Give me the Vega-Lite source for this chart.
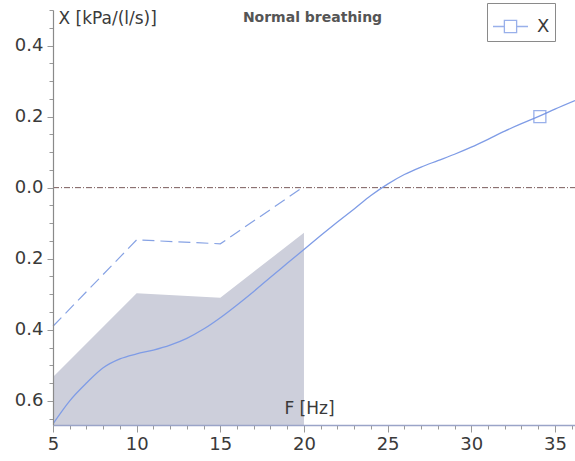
{
  "$schema": "https://vega.github.io/schema/vega-lite/v6.json",
  "width": 522,
  "height": 415,
  "autosize": {"type": "none"},
  "padding": {"left": 53, "top": 10, "right": 0, "bottom": 36},
  "background": "white",
  "config": {
    "font": "DejaVu Sans",
    "view": {"stroke": null}
  },
  "datasets": {
    "band": [
      {"F": 5, "upper": -0.533},
      {"F": 10, "upper": -0.297},
      {"F": 15, "upper": -0.31},
      {"F": 20, "upper": -0.127}
    ],
    "dash": [
      {"F": 5, "X": -0.39},
      {"F": 10, "X": -0.147},
      {"F": 15, "X": -0.158},
      {"F": 20, "X": 0.003}
    ],
    "line": [
      {"F": 5, "X": -0.665},
      {"F": 6, "X": -0.6},
      {"F": 7, "X": -0.55},
      {"F": 8, "X": -0.507},
      {"F": 9, "X": -0.482},
      {"F": 10, "X": -0.468},
      {"F": 11, "X": -0.457},
      {"F": 12, "X": -0.443},
      {"F": 13, "X": -0.424},
      {"F": 14, "X": -0.398},
      {"F": 15, "X": -0.366},
      {"F": 16, "X": -0.33},
      {"F": 17, "X": -0.292},
      {"F": 18, "X": -0.252},
      {"F": 19, "X": -0.213},
      {"F": 20, "X": -0.174},
      {"F": 21, "X": -0.135},
      {"F": 22, "X": -0.097},
      {"F": 23, "X": -0.06},
      {"F": 24, "X": -0.022},
      {"F": 25, "X": 0.01},
      {"F": 26, "X": 0.037},
      {"F": 27, "X": 0.058},
      {"F": 28, "X": 0.076},
      {"F": 29, "X": 0.094},
      {"F": 30, "X": 0.114},
      {"F": 31, "X": 0.136},
      {"F": 32, "X": 0.159},
      {"F": 33, "X": 0.18},
      {"F": 34, "X": 0.2},
      {"F": 35, "X": 0.221},
      {"F": 36.2, "X": 0.245}
    ],
    "marker": [
      {"F": 34.1, "X": 0.2, "series": "X"}
    ]
  },
  "resolve": {"axis": {"x": "independent", "y": "independent"}},
  "layer": [
    {
      "data": {"name": "band"},
      "mark": {"type": "area", "color": "#cdcfdb", "opacity": 1},
      "encoding": {
        "x": {
          "field": "F",
          "type": "quantitative",
          "scale": {"domain": [5, 36.2], "nice": false, "zero": false},
          "axis": {
            "zindex": 1,
            "values": [5, 6, 7, 8, 9, 10, 11, 12, 13, 14, 15, 16, 17, 18, 19, 20, 21, 22, 23, 24, 25, 26, 27, 28, 29, 30, 31, 32, 33, 34, 35, 36],
            "labelExpr": "datum.value % 5 === 0 ? datum.label : ''",
            "labelFontSize": 18,
            "labelColor": "#3a3a3a",
            "labelPadding": 3,
            "labelFlush": false,
            "labelOverlap": false,
            "grid": false,
            "domainColor": "#9aa4c8",
            "domainWidth": 1.5,
            "tickColor": "#999999",
            "tickSize": {"condition": {"test": "datum.value % 5 === 0", "value": 7}, "value": 4},
            "title": "F [Hz]",
            "titleFontSize": 17,
            "titleFontWeight": "normal",
            "titleColor": "#3a3a3a",
            "titleX": 256,
            "titleY": -17,
            "titleAlign": "center",
            "titleBaseline": "middle"
          }
        },
        "y": {
          "field": "upper",
          "type": "quantitative",
          "scale": {"domain": [-0.668, 0.5], "nice": false, "zero": false},
          "axis": {
            "zindex": 1,
            "values": [-0.65, -0.6, -0.55, -0.5, -0.45, -0.4, -0.35, -0.3, -0.25, -0.2, -0.15, -0.1, -0.05, 0, 0.05, 0.1, 0.15, 0.2, 0.25, 0.3, 0.35, 0.4, 0.45, 0.5],
            "labelExpr": "abs(round(datum.value * 100)) % 20 === 0 ? format(abs(datum.value), '.1f') : ''",
            "labelFontSize": 18,
            "labelColor": "#3a3a3a",
            "labelPadding": 4,
            "labelOverlap": false,
            "labelFlush": false,
            "grid": false,
            "domainColor": "#8a8a8a",
            "domainWidth": 1.2,
            "tickColor": "#999999",
            "tickSize": {"condition": {"test": "abs(round(datum.value * 100)) % 20 === 0", "value": 6}, "value": 4},
            "title": "X [kPa/(l/s)]",
            "titleFontSize": 17,
            "titleFontWeight": "normal",
            "titleColor": "#3a3a3a",
            "titleAngle": 0,
            "titleX": 5,
            "titleY": 8,
            "titleAlign": "left",
            "titleBaseline": "middle"
          }
        },
        "y2": {"datum": -0.668}
      }
    },
    {
      "data": {"values": [{"X": 0}]},
      "mark": {"type": "rule", "color": "#7a5a5a", "strokeWidth": 1, "strokeDash": [6, 2, 1, 2]},
      "encoding": {
        "x": {"value": 0},
        "x2": {"value": 522},
        "y": {"field": "X", "type": "quantitative", "scale": {"domain": [-0.668, 0.5], "nice": false, "zero": false}, "axis": null}
      }
    },
    {
      "data": {"name": "dash"},
      "mark": {"type": "line", "color": "#86a2e4", "strokeWidth": 1.2, "strokeDash": [12, 6]},
      "encoding": {
        "x": {"field": "F", "type": "quantitative", "scale": {"domain": [5, 36.2], "nice": false, "zero": false}, "axis": null},
        "y": {"field": "X", "type": "quantitative", "scale": {"domain": [-0.668, 0.5], "nice": false, "zero": false}, "axis": null}
      }
    },
    {
      "data": {"name": "line"},
      "mark": {"type": "line", "color": "#7f9ce6", "strokeWidth": 1.3, "interpolate": "monotone", "clip": true},
      "encoding": {
        "x": {"field": "F", "type": "quantitative", "scale": {"domain": [5, 36.2], "nice": false, "zero": false}, "axis": null},
        "y": {"field": "X", "type": "quantitative", "scale": {"domain": [-0.668, 0.5], "nice": false, "zero": false}, "axis": null}
      }
    },
    {
      "data": {"name": "marker"},
      "mark": {"type": "point", "shape": "square", "filled": false, "size": 144, "strokeWidth": 1.3},
      "encoding": {
        "x": {
          "field": "F",
          "type": "quantitative",
          "scale": {"domain": [5, 36.2], "nice": false, "zero": false},
          "axis": {
            "orient": "top",
            "domain": false,
            "ticks": false,
            "labels": false,
            "grid": false,
            "title": "Normal breathing",
            "titleFont": "DejaVu Sans",
            "titleFontSize": 14,
            "titleFontWeight": "bold",
            "titleColor": "#555555",
            "titleX": 259,
            "titleY": 7,
            "titleAlign": "center",
            "titleBaseline": "middle"
          }
        },
        "y": {"field": "X", "type": "quantitative", "scale": {"domain": [-0.668, 0.5], "nice": false, "zero": false}, "axis": null},
        "color": {
          "field": "series",
          "type": "nominal",
          "scale": {"range": ["#6f8fe2"]},
          "legend": {
            "title": null,
            "orient": "none",
            "legendX": 434,
            "legendY": -7,
            "strokeColor": "#8a8a8a",
            "padding": 5,
            "symbolType": "M-1,0H-0.35M0.35,0H1M-0.35,-0.35H0.35V0.35H-0.35Z",
            "symbolSize": 1225,
            "symbolStrokeWidth": 1.3,
            "symbolFillColor": "transparent",
            "labelFontSize": 18,
            "labelColor": "#3a3a3a",
            "labelOffset": 8
          }
        }
      }
    }
  ]
}
